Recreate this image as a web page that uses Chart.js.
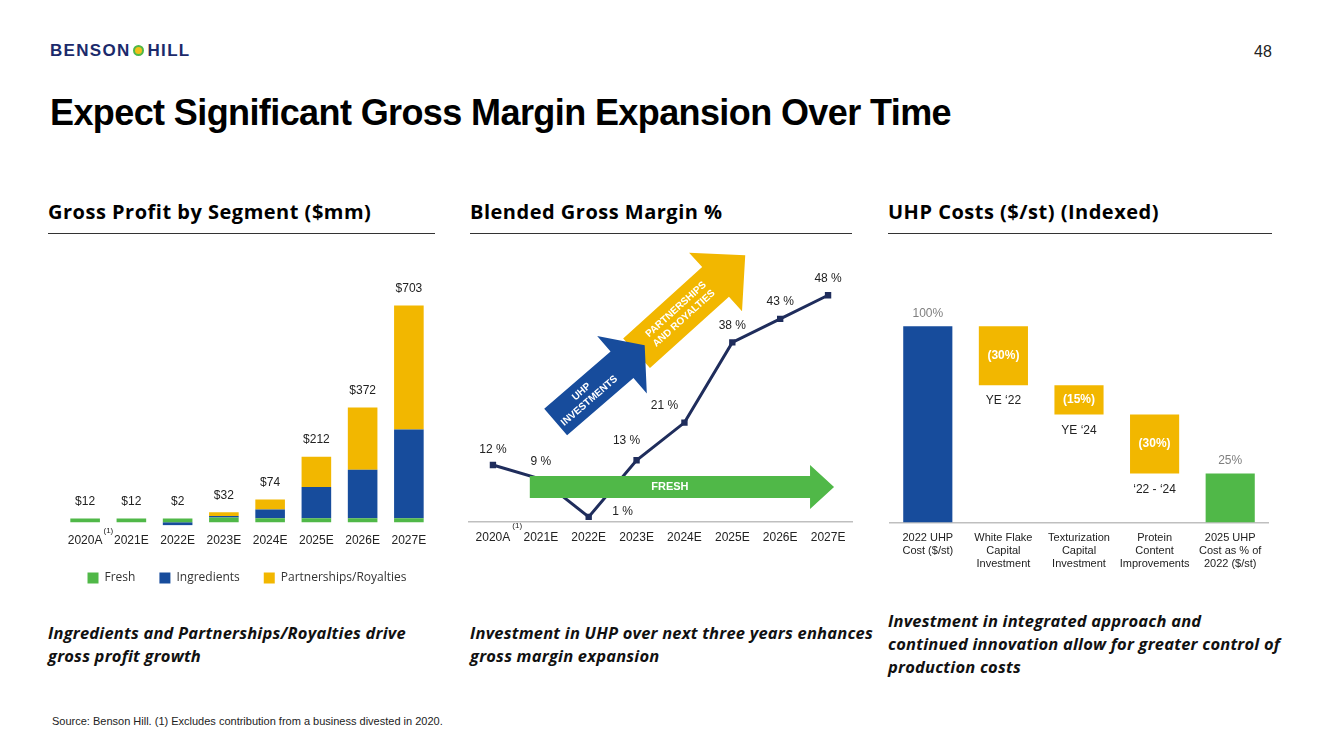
<!DOCTYPE html>
<html>
<head>
<meta charset="utf-8">
<script src="https://cdn.jsdelivr.net/npm/chart.js@4.4.1/dist/chart.umd.min.js"></script>
<style>
  body { margin: 0; width: 1333px; height: 750px; background: #fff; position: relative; overflow: hidden; font-family: "Liberation Sans", Arial, sans-serif; }
  .abs { position: absolute; }
  .logo { left: 50px; top: 41px; font-family: "Liberation Sans", sans-serif; font-weight: bold; font-size: 17px; color: #1b2a6b; letter-spacing: 1.3px; }
  .logo .dot { display: inline-block; width: 7px; height: 7px; border-radius: 50%; background: #f2c01a; border: 2px solid #4fb848; margin: 0 4px 2px 2px; vertical-align: middle; }
  .pnum { left: 1254px; top: 43px; font-size: 16px; color: #222; }
  .title { left: 50px; top: 92px; font-size: 36px; font-weight: bold; color: #000; letter-spacing: -0.6px; white-space: nowrap; }
  .head { font-family: "Open Sans", Lato, sans-serif; font-weight: bold; font-size: 20px; letter-spacing: 0.5px; color: #000; width: 387px; height: 35px; border-bottom: 1px solid #333; top: 198px; white-space: nowrap; }
  .note { font-family: "Open Sans", Lato, sans-serif; font-weight: bold; font-style: italic; font-size: 16.5px; letter-spacing: 0.2px; line-height: 23px; color: #111; white-space: nowrap; }
  .src { left: 52px; top: 715px; font-size: 11px; color: #222; }
</style>
</head>
<body>
<div class="abs logo">BENSON<span class="dot"></span>HILL</div>
<div class="abs pnum">48</div>
<div class="abs title">Expect Significant Gross Margin Expansion Over Time</div>

<div class="abs head" style="left:48px">Gross Profit by Segment ($mm)</div>
<div class="abs head" style="left:470px; width:382px">Blended Gross Margin %</div>
<div class="abs head" style="left:888px; width:384px">UHP Costs ($/st) (Indexed)</div>

<canvas id="c1" class="abs" width="392" height="345" style="left:48px; top:249px"></canvas>
<canvas id="c2" class="abs" width="396" height="301" style="left:462px; top:245px"></canvas>
<canvas id="c3" class="abs" width="390" height="326" style="left:885px; top:246px"></canvas>

<div class="abs note" style="left:48px; top:621px">Ingredients and Partnerships/Royalties drive<br>gross profit growth</div>
<div class="abs note" style="left:470px; top:621px">Investment in UHP over next three years enhances<br>gross margin expansion</div>
<div class="abs note" style="left:888px; top:609px">Investment in integrated approach and<br>continued innovation allow for greater control of<br>production costs</div>

<div class="abs src">Source: Benson Hill. (1) Excludes contribution from a business divested in 2020.</div>

<script>
// ---- data ----
const years = ['2020A', '2021E', '2022E', '2023E', '2024E', '2025E', '2026E', '2027E'];

const freshProfit = [12, 12, 12, 15, 13, 13, 13, 13];
const ingredientsProfit = [0, 0, -10, 5, 28, 101, 157, 288];
const partnershipsProfit = [0, 0, 0, 12, 33, 98, 202, 402];
const totalProfitLabels = ['$12', '$12', '$2', '$32', '$74', '$212', '$372', '$703'];

const grossMargin = [12, 9, 1, 13, 21, 38, 43, 48];

const costSteps = [
    ['2022 UHP', 'Cost ($/st)'],
    ['White Flake', 'Capital', 'Investment'],
    ['Texturization', 'Capital', 'Investment'],
    ['Protein', 'Content', 'Improvements'],
    ['2025 UHP', 'Cost as % of', '2022 ($/st)']
];
const costRanges = [[0, 100], [70, 100], [55, 70], [25, 55], [0, 25]];
const costLabels = ['100%', '(30%)', '(15%)', '(30%)', '25%'];
const costTiming = ['', 'YE \u201822', 'YE \u201824', '\u201822 - \u201824', ''];

// ---- styles ----
const GREEN = '#50b848';
const BLUE = '#174c9c';
const YELLOW = '#f2b700';
const NAVY = '#1f2d5c';
const AXIS = '#bfbfbf';
const FONT = '"Liberation Sans", Arial, sans-serif';

Chart.defaults.font.family = FONT;
Chart.defaults.color = '#222';
Chart.defaults.animation = false;

// draws the small (1) after the first tick label
function footnoteMark(chart, dx, dy) {
    const ctx = chart.ctx;
    const xs = chart.scales.x;
    const x = xs.getPixelForValue(0);
    ctx.save();
    ctx.font = '12px ' + FONT;
    const w = ctx.measureText(years[0]).width;
    ctx.font = '8px ' + FONT;
    ctx.fillStyle = '#222';
    ctx.textAlign = 'left';
    ctx.textBaseline = 'middle';
    ctx.fillText('(1)', x + w / 2 + dx, xs.top + dy);
    ctx.restore();
}

function drawArrow(ctx, x0, y0, x1, y1, bodyW, headW, headL, color) {
    const len = Math.hypot(x1 - x0, y1 - y0);
    const ux = (x1 - x0) / len, uy = (y1 - y0) / len;
    const nx = -uy, ny = ux;
    const bx = x1 - ux * headL, by = y1 - uy * headL;
    ctx.beginPath();
    ctx.moveTo(x0 + nx * bodyW / 2, y0 + ny * bodyW / 2);
    ctx.lineTo(bx + nx * bodyW / 2, by + ny * bodyW / 2);
    ctx.lineTo(bx + nx * headW / 2, by + ny * headW / 2);
    ctx.lineTo(x1, y1);
    ctx.lineTo(bx - nx * headW / 2, by - ny * headW / 2);
    ctx.lineTo(bx - nx * bodyW / 2, by - ny * bodyW / 2);
    ctx.lineTo(x0 - nx * bodyW / 2, y0 - ny * bodyW / 2);
    ctx.closePath();
    ctx.fillStyle = color;
    ctx.fill();
}

function arrowText(ctx, lines, x, y, angle, size) {
    ctx.save();
    ctx.translate(x, y);
    ctx.rotate(angle);
    ctx.font = 'bold ' + size + 'px ' + FONT;
    ctx.fillStyle = '#fff';
    ctx.textAlign = 'center';
    ctx.textBaseline = 'middle';
    const lh = size + 2;
    lines.forEach((t, i) => ctx.fillText(t, 0, (i - (lines.length - 1) / 2) * lh));
    ctx.restore();
}

// ---- chart 1: gross profit by segment ----
const totalsPlugin = {
    id: 'totals',
    afterDatasetsDraw(chart) {
        const ctx = chart.ctx;
        const ys = chart.scales.y, xs = chart.scales.x;
        ctx.save();
        ctx.font = '12px ' + FONT;
        ctx.fillStyle = '#222';
        ctx.textAlign = 'center';
        ctx.textBaseline = 'middle';
        years.forEach((y, i) => {
            const top = [freshProfit[i], ingredientsProfit[i], partnershipsProfit[i]]
                .filter(v => v > 0).reduce((a, b) => a + b, 0);
            ctx.fillText(totalProfitLabels[i], xs.getPixelForValue(i), ys.getPixelForValue(top) - 17);
        });
        ctx.restore();
        footnoteMark(chart, 1, 5);
    }
};

new Chart(document.getElementById('c1'), {
    type: 'bar',
    data: {
        labels: years,
        datasets: [
            { label: 'Fresh', data: freshProfit, backgroundColor: GREEN },
            { label: 'Ingredients', data: ingredientsProfit, backgroundColor: BLUE },
            { label: 'Partnerships/Royalties', data: partnershipsProfit, backgroundColor: YELLOW }
        ]
    },
    options: {
        responsive: false,
        layout: { padding: { left: 14, right: 8, top: 0, bottom: 0 } },
        datasets: { bar: { barPercentage: 0.64, categoryPercentage: 1 } },
        scales: {
            x: {
                stacked: true,
                grid: { display: false },
                border: { display: false },
                ticks: { font: { size: 12 }, color: '#222', padding: 0, maxRotation: 0, autoSkip: false }
            },
            y: {
                stacked: true,
                display: true,
                min: -11, max: 886,
                ticks: { display: false, stepSize: 100 },
                border: { display: false },
                grid: {
                    drawTicks: false,
                    color: c => c.tick && c.tick.value === 0 ? AXIS : 'transparent',
                    lineWidth: 1.5
                }
            }
        },
        plugins: {
            tooltip: { enabled: false },
            legend: {
                position: 'bottom',
                labels: {
                    boxWidth: 11, boxHeight: 11, padding: 24,
                    font: { family: '"Open Sans", Lato, sans-serif', size: 12 },
                    color: '#333'
                }
            }
        }
    },
    plugins: [totalsPlugin]
});

// ---- chart 2: blended gross margin ----
const marginLabelShift = [[0, -15], [0, -17], [34, -5], [-10, -20], [-20, -17], [0, -17], [0, -17], [0, -17]];
const arrows = [
    { from: [3.0, 35.7], to: [5.27, 56.5], body: 40, head: 79, headL: 40, color: YELLOW, text: ['PARTNERSHIPS', 'AND ROYALTIES'], at: 0.55, size: 10 },
    { from: [1.31, 21.1], to: [3.17, 37.4], body: 35, head: 76, headL: 30, color: BLUE, text: ['UHP', 'INVESTMENTS'], at: 0.45, size: 10 },
    { from: [0.77, 7.35], to: [7.125, 7.35], body: 22, head: 44, headL: 24, color: GREEN, text: ['FRESH'], at: 0.5, size: 11 }
];

const marginPlugin = {
    id: 'marginDeco',
    afterDatasetsDraw(chart) {
        const ctx = chart.ctx;
        const xs = chart.scales.x, ys = chart.scales.y;
        ctx.save();
        arrows.forEach(a => {
            const x0 = xs.getPixelForValue(a.from[0]), y0 = ys.getPixelForValue(a.from[1]);
            const x1 = xs.getPixelForValue(a.to[0]), y1 = ys.getPixelForValue(a.to[1]);
            drawArrow(ctx, x0, y0, x1, y1, a.body, a.head, a.headL, a.color);
            const ang = Math.atan2(y1 - y0, x1 - x0);
            const tx = x0 + (x1 - a.headL * Math.cos(ang) - x0) * a.at;
            const ty = y0 + (y1 - a.headL * Math.sin(ang) - y0) * a.at;
            arrowText(ctx, a.text, tx, ty, ang, a.size);
        });
        ctx.font = '12px ' + FONT;
        ctx.fillStyle = '#222';
        ctx.textAlign = 'center';
        ctx.textBaseline = 'middle';
        grossMargin.forEach((v, i) => {
            const s = marginLabelShift[i];
            ctx.fillText(v + ' %', xs.getPixelForValue(i) + s[0], ys.getPixelForValue(v) + s[1]);
        });
        ctx.restore();
        footnoteMark(chart, 2, 4);
    }
};

new Chart(document.getElementById('c2'), {
    type: 'line',
    data: {
        labels: years,
        datasets: [{
            data: grossMargin,
            borderColor: NAVY,
            backgroundColor: NAVY,
            borderWidth: 3,
            tension: 0,
            pointStyle: 'rect',
            pointRadius: 4.5,
            pointBorderWidth: 0
        }]
    },
    options: {
        responsive: false,
        layout: { padding: { left: 7, right: 6, top: 0, bottom: 0 } },
        scales: {
            x: {
                offset: true,
                grid: { display: false },
                border: { color: AXIS, width: 1.5 },
                ticks: { font: { size: 12 }, color: '#222', padding: 1, maxRotation: 0, autoSkip: false }
            },
            y: { display: false, min: 0, max: 57.7 }
        },
        plugins: { legend: { display: false }, tooltip: { enabled: false } }
    },
    plugins: [marginPlugin]
});

// ---- chart 3: UHP cost waterfall ----
const costPlugin = {
    id: 'costLabels',
    afterDatasetsDraw(chart) {
        const ctx = chart.ctx;
        const xs = chart.scales.x, ys = chart.scales.y;
        ctx.save();
        ctx.textAlign = 'center';
        ctx.textBaseline = 'middle';
        costRanges.forEach((r, i) => {
            const x = xs.getPixelForValue(i);
            const top = ys.getPixelForValue(r[1]), bot = ys.getPixelForValue(r[0]);
            if (r[0] === 0) {
                ctx.font = '12px ' + FONT;
                ctx.fillStyle = '#7f7f7f';
                ctx.fillText(costLabels[i], x, top - 13);
            } else {
                ctx.font = 'bold 12px ' + FONT;
                ctx.fillStyle = '#fff';
                ctx.fillText(costLabels[i], x, (top + bot) / 2);
                ctx.font = '12px ' + FONT;
                ctx.fillStyle = '#222';
                ctx.fillText(costTiming[i], x, bot + 16);
            }
        });
        ctx.restore();
    }
};

new Chart(document.getElementById('c3'), {
    type: 'bar',
    data: {
        labels: costSteps,
        datasets: [{
            data: costRanges,
            backgroundColor: [BLUE, YELLOW, YELLOW, YELLOW, GREEN],
            barPercentage: 0.65,
            categoryPercentage: 1
        }]
    },
    options: {
        responsive: false,
        layout: { padding: { left: 5, right: 7, top: 0, bottom: 0 } },
        scales: {
            x: {
                grid: { display: false },
                border: { color: AXIS, width: 1.5 },
                ticks: { font: { size: 11 }, color: '#222', padding: 1, maxRotation: 0, autoSkip: false }
            },
            y: { display: false, min: 0, max: 141 }
        },
        plugins: { legend: { display: false }, tooltip: { enabled: false } }
    },
    plugins: [costPlugin]
});
</script>
</body>
</html>
